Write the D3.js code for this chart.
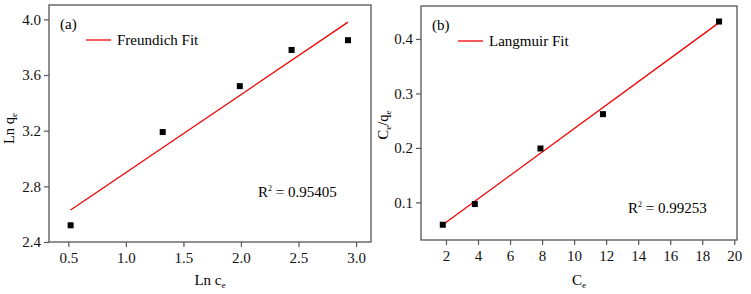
<!DOCTYPE html>
<html>
<head>
<meta charset="utf-8">
<script src="https://cdn.jsdelivr.net/npm/d3@7"></script>
<style>
  body { margin: 0; background: #fff; }
  text { font-family: "Liberation Serif", "Times New Roman", serif; }
</style>
</head>
<body>
<div id="chart"></div>
<script>
// Freundlich data (panel a)
const lnCe = [0.52, 1.32, 1.99, 2.44, 2.93];
const lnQe = [2.52, 3.19, 3.52, 3.78, 3.85];
const freundFitX = [0.52, 2.93];
const freundFitY = [2.63, 3.98];
const freundTicksX = [0.5, 1.0, 1.5, 2.0, 2.5, 3.0];
const freundTicksY = [2.4, 2.8, 3.2, 3.6, 4.0];

// Langmuir data (panel b)
const ce = [1.8, 3.8, 7.9, 11.8, 19.05];
const ceQe = [0.059, 0.097, 0.199, 0.262, 0.432];
const langFitX = [1.8, 19.05];
const langFitY = [0.059, 0.430];
const langTicksX = [2, 4, 6, 8, 10, 12, 14, 16, 18, 20];
const langTicksY = [0.1, 0.2, 0.3, 0.4];

const width = 751;
const height = 294;

const svg = d3.select('#chart')
  .append('svg')
  .attr('width', width)
  .attr('height', height);

function panel(opts) {
  const x = d3.scaleLinear().domain(opts.xDomain).range([opts.left, opts.right]);
  const y = d3.scaleLinear().domain(opts.yDomain).range([opts.bottom, opts.top]);
  const g = svg.append('g');

  // frame
  g.append('rect')
    .attr('x', opts.left)
    .attr('y', opts.top)
    .attr('width', opts.right - opts.left)
    .attr('height', opts.bottom - opts.top)
    .attr('fill', 'none')
    .attr('stroke', '#555')
    .attr('stroke-width', 1.3);

  const xAxis = g.append('g')
    .attr('transform', `translate(0,${opts.bottom})`)
    .call(d3.axisBottom(x).tickValues(opts.xTicks).tickFormat(opts.xFmt).tickSizeOuter(0).tickSize(5).tickPadding(5));
  const yAxis = g.append('g')
    .attr('transform', `translate(${opts.left},0)`)
    .call(d3.axisLeft(y).tickValues(opts.yTicks).tickFormat(d3.format('.1f')).tickSizeOuter(0).tickSize(5).tickPadding(3));
  [xAxis, yAxis].forEach(a => {
    a.select('.domain').remove();
    a.selectAll('line').attr('stroke', '#555').attr('stroke-width', 1.2);
    a.selectAll('text')
      .attr('font-size', 15)
      .attr('fill', '#111')
      .style('font-family', '"Liberation Serif", serif');
  });

  // fit line
  g.append('path')
    .datum(d3.zip(opts.fitX, opts.fitY))
    .attr('d', d3.line().x(d => x(d[0])).y(d => y(d[1])))
    .attr('stroke', '#f20000')
    .attr('stroke-width', 1.3)
    .attr('fill', 'none');

  // points
  g.selectAll('rect.pt')
    .data(d3.zip(opts.xs, opts.ys))
    .enter()
    .append('rect')
    .attr('class', 'pt')
    .attr('x', d => x(d[0]) - 3)
    .attr('y', d => y(d[1]) - 3)
    .attr('width', 6)
    .attr('height', 6)
    .attr('fill', '#000');

  // panel tag
  g.append('text')
    .attr('x', opts.left + 11)
    .attr('y', opts.top + 24)
    .attr('font-size', 15)
    .text(opts.tag);

  // legend
  g.append('line')
    .attr('x1', opts.left + 37).attr('x2', opts.left + 62)
    .attr('y1', opts.top + 35).attr('y2', opts.top + 35)
    .attr('stroke', '#f20000').attr('stroke-width', 1.3);
  g.append('text')
    .attr('x', opts.left + 68)
    .attr('y', opts.top + 40)
    .attr('font-size', 15)
    .text(opts.legend);

  // R^2
  const r = g.append('text')
    .attr('x', opts.rx)
    .attr('y', opts.ry)
    .attr('font-size', 15);
  r.append('tspan').text('R');
  r.append('tspan').attr('dy', -6).attr('font-size', 8).text('2');
  r.append('tspan').attr('dy', 6).text(' = ' + opts.r2);

  // x label
  const xl = g.append('text')
    .attr('x', (opts.left + opts.right) / 2)
    .attr('y', height - 9)
    .attr('text-anchor', 'middle')
    .attr('font-size', 15);
  opts.xLabel(xl);

  // y label
  const yl = g.append('text')
    .attr('transform', `translate(${opts.yLabelX},${(opts.top + opts.bottom) / 2 + opts.yLabelShift}) rotate(-90)`)
    .attr('text-anchor', 'middle')
    .attr('font-size', 14.5);
  opts.yLabel(yl);
}

function sub(t, main, s) {
  t.append('tspan').text(main);
  t.append('tspan').attr('dy', 3).attr('font-size', 9).text(s);
}

panel({
  left: 49, right: 371, top: 5, bottom: 242,
  xDomain: [0.332, 3.13], yDomain: [2.4, 4.103],
  xTicks: freundTicksX, yTicks: freundTicksY, xFmt: d3.format('.1f'),
  xs: lnCe, ys: lnQe, fitX: freundFitX, fitY: freundFitY,
  tag: '(a)', legend: 'Freundich Fit',
  rx: 258, ry: 197, r2: '0.95405',
  yLabelX: 14, yLabelShift: 5,
  xLabel: t => { sub(t, 'Ln c', 'e'); },
  yLabel: t => { sub(t, 'Ln q', 'e'); }
});

panel({
  left: 421, right: 737, top: 6, bottom: 240,
  xDomain: [0.44, 20.17], yDomain: [0.031, 0.4605],
  xTicks: langTicksX, yTicks: langTicksY, xFmt: d3.format('d'),
  xs: ce, ys: ceQe, fitX: langFitX, fitY: langFitY,
  tag: '(b)', legend: 'Langmuir Fit',
  rx: 628, ry: 213, r2: '0.99253',
  yLabelX: 388, yLabelShift: 2,
  xLabel: t => { sub(t, 'C', 'e'); },
  yLabel: t => {
    sub(t, 'C', 'e');
    t.append('tspan').attr('dy', -3).text('/q');
    t.append('tspan').attr('dy', 3).attr('font-size', 9).text('e');
  }
});
</script>
</body>
</html>
